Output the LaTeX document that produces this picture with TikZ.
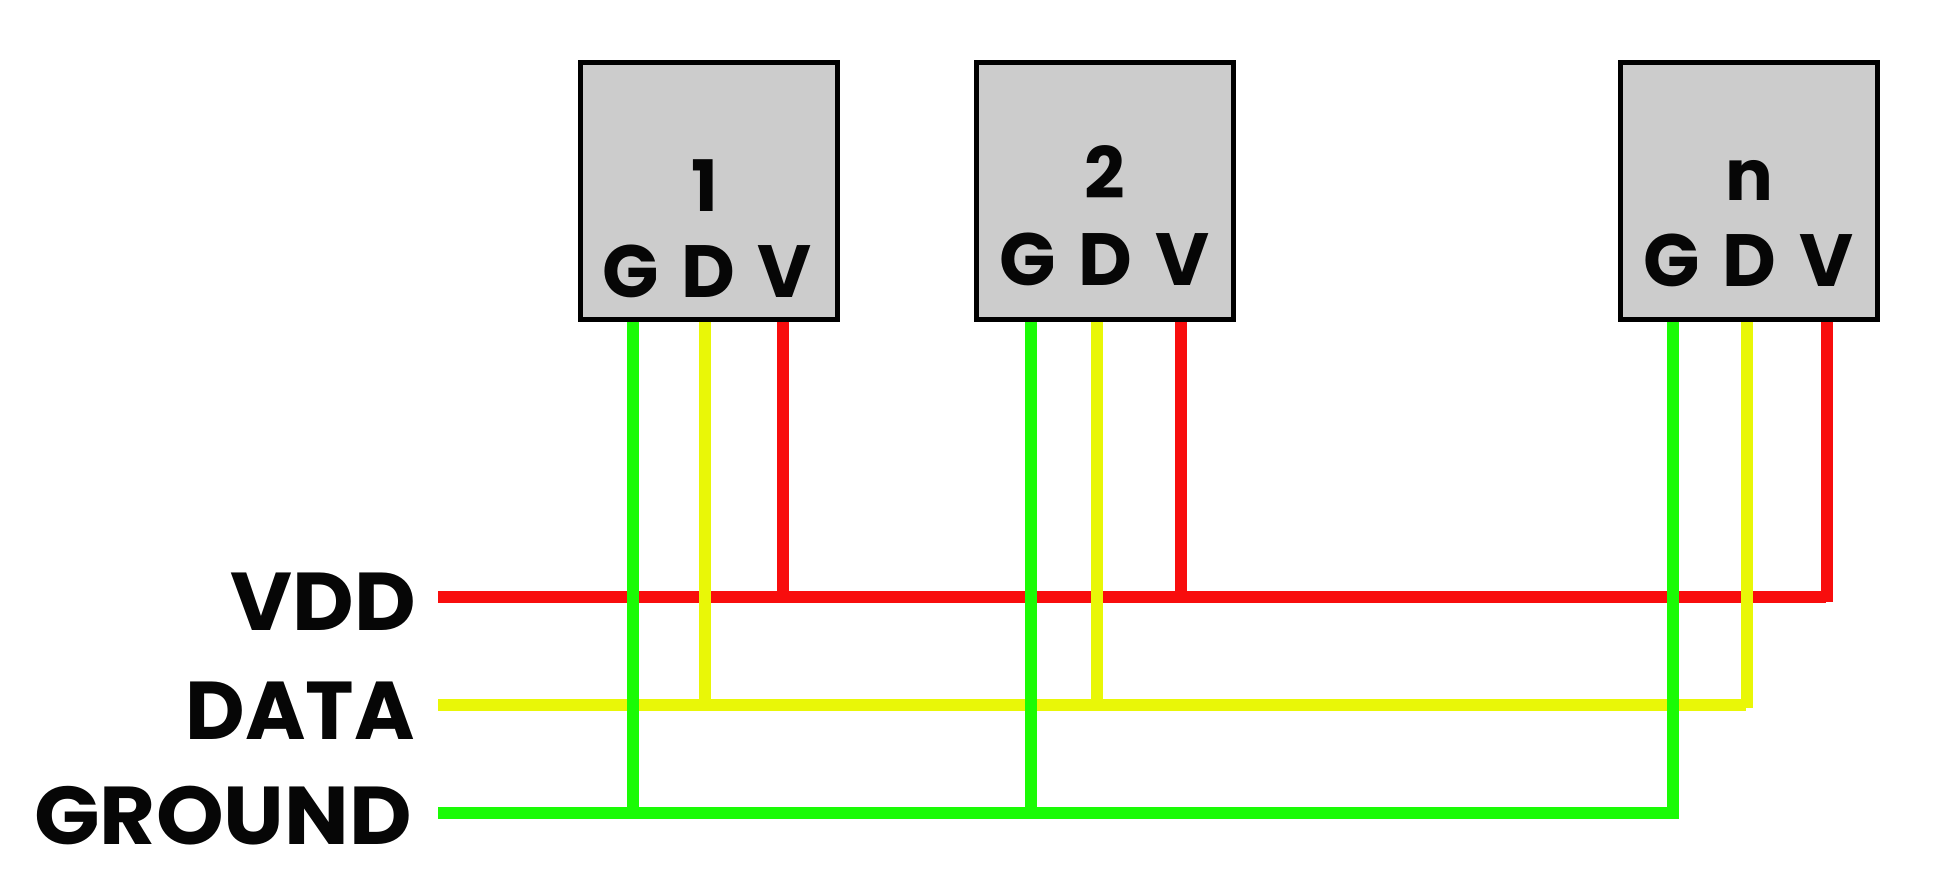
\documentclass[tikz,border=0pt]{standalone}
\usepackage{fontspec}
\setmainfont{Poppins}[BoldFont={Poppins Bold}]
\definecolor{wred}{HTML}{F80D0D}
\definecolor{wyellow}{HTML}{E9F707}
\definecolor{wgreen}{HTML}{1AFB05}
\definecolor{ink}{HTML}{060606}
\definecolor{chip}{HTML}{CCCCCC}
\tikzset{
  chipbox/.style={draw=black,fill=chip,line width=5pt,minimum width=257pt,minimum height=257pt,inner sep=0pt},
  pin/.style={inner sep=0pt,anchor=base,text=ink,font=\fontsize{74}{74}\selectfont\bfseries},
  num/.style={inner sep=0pt,anchor=base,text=ink,font=\fontsize{71}{71}\selectfont\bfseries},
  bus/.style={inner sep=0pt,anchor=base east,text=ink,font=\fontsize{82}{82}\selectfont\bfseries},
  wire/.style={line width=12pt,line cap=butt,line join=miter},
  redw/.style={wire,draw=wred},
  yelw/.style={wire,draw=wyellow},
  grnw/.style={wire,draw=wgreen}
}
\begin{document}
\begin{tikzpicture}[x=1pt,y=-1pt]
\useasboundingbox (0,0) rectangle (1940,880);
\node[chipbox] (c1) at (709,191) {};
\node[chipbox] (c2) at (1105,191) {};
\node[chipbox] (c3) at (1749,191) {};
\node[num] (n1) at (705,211) {1};
\node[num] (n2) at (1105,198) {2};
\node[num] (n3) at (1749,200) {n};
\node[pin] (g1) at (631,297) {G};
\node[pin] (d1) at (708,297) {D};
\node[pin] (v1) at (784,297) {V};
\node[pin] (g2) at (1028,285) {G};
\node[pin] (d2) at (1105,285) {D};
\node[pin] (v2) at (1182,285) {V};
\node[pin] (g3) at (1672,286) {G};
\node[pin] (d3) at (1749,286) {D};
\node[pin] (v3) at (1826,286) {V};
\node[bus] (vdd) at (416,630) {\scalebox{1.034}[1]{VDD}};
\node[bus] (data) at (415,739) {DATA};
\node[bus] (gnd) at (412,844) {\scalebox{1.05}[1]{GROUND}};
% pins on the chips
\coordinate (pg1) at (633,322); \coordinate (pd1) at (705,322); \coordinate (pv1) at (783,322);
\coordinate (pg2) at (1031,322); \coordinate (pd2) at (1097,322); \coordinate (pv2) at (1181,322);
\coordinate (pg3) at (1673,322); \coordinate (pd3) at (1747,322); \coordinate (pv3) at (1827,322);
% bus starts and ends
\coordinate (sv) at (438,597); \coordinate (ev) at (1826,597);
\coordinate (sd) at (438,705); \coordinate (ed) at (1746,705);
\coordinate (sg) at (438,813); \coordinate (eg) at (1679,813);
% red
\draw[redw] (sv) -- (ev);
\draw[redw] (pv1) -- (pv1 |- ev);
\draw[redw] (pv2) -- (pv2 |- ev);
\draw[redw] (pv3) -- ++(0,280);
% yellow
\draw[yelw] (sd) -- (ed);
\draw[yelw] (pd1) -- (pd1 |- ed);
\draw[yelw] (pd2) -- (pd2 |- ed);
\draw[yelw] (pd3) -- ++(0,386);
% green
\draw[grnw] (sg) -- (eg);
\draw[grnw] (pg1) -- (pg1 |- eg);
\draw[grnw] (pg2) -- (pg2 |- eg);
\draw[grnw] (pg3) -- ++(0,497);
\end{tikzpicture}
\end{document}
